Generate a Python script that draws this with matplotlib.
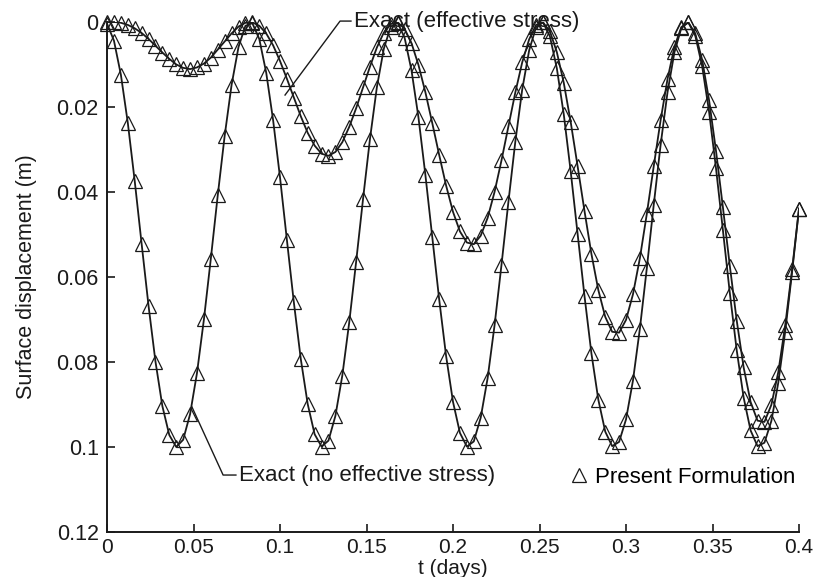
import matplotlib
matplotlib.use("Agg")
import matplotlib.pyplot as plt

plt.rcParams["font.family"] = ["Liberation Sans", "DejaVu Sans"]

# sample times (days), one per marker
t_days = [
    0.000, 0.004, 0.008, 0.012, 0.016, 0.020, 0.024, 0.028, 0.032, 0.036,
    0.040, 0.044, 0.048, 0.052, 0.056, 0.060, 0.064, 0.068, 0.072, 0.076,
    0.080, 0.084, 0.088, 0.092, 0.096, 0.100, 0.104, 0.108, 0.112, 0.116,
    0.120, 0.124, 0.128, 0.132, 0.136, 0.140, 0.144, 0.148, 0.152, 0.156,
    0.160, 0.164, 0.168, 0.172, 0.176, 0.180, 0.184, 0.188, 0.192, 0.196,
    0.200, 0.204, 0.208, 0.212, 0.216, 0.220, 0.224, 0.228, 0.232, 0.236,
    0.240, 0.244, 0.248, 0.252, 0.256, 0.260, 0.264, 0.268, 0.272, 0.276,
    0.280, 0.284, 0.288, 0.292, 0.296, 0.300, 0.304, 0.308, 0.312, 0.316,
    0.320, 0.324, 0.328, 0.332, 0.336, 0.340, 0.344, 0.348, 0.352, 0.356,
    0.360, 0.364, 0.368, 0.372, 0.376, 0.380, 0.384, 0.388, 0.392, 0.396,
    0.400,
]

# surface displacement (m), no effective stress
disp_no_eff = [
    0.0004, 0.0044, 0.0124, 0.0237, 0.0374, 0.0522, 0.0668, 0.0799, 0.0904, 0.0972,
    0.1000, 0.0983, 0.0923, 0.0826, 0.0700, 0.0557, 0.0408, 0.0268, 0.0148, 0.0059,
    0.0009, 0.0003, 0.0040, 0.0119, 0.0231, 0.0366, 0.0514, 0.0660, 0.0793, 0.0899,
    0.0970, 0.0999, 0.0985, 0.0927, 0.0832, 0.0707, 0.0564, 0.0416, 0.0275, 0.0153,
    0.0063, 0.0011, 0.0002, 0.0037, 0.0114, 0.0224, 0.0359, 0.0506, 0.0653, 0.0786,
    0.0894, 0.0967, 0.0999, 0.0987, 0.0931, 0.0838, 0.0714, 0.0572, 0.0424, 0.0282,
    0.0159, 0.0067, 0.0012, 0.0001, 0.0034, 0.0109, 0.0217, 0.0351, 0.0498, 0.0645,
    0.0780, 0.0889, 0.0964, 0.0998, 0.0988, 0.0935, 0.0844, 0.0722, 0.0580, 0.0431,
    0.0289, 0.0165, 0.0071, 0.0014, 0.0001, 0.0032, 0.0104, 0.0211, 0.0344, 0.0490,
    0.0638, 0.0773, 0.0884, 0.0961, 0.0998, 0.0990, 0.0939, 0.0849, 0.0729, 0.0588,
    0.0439,
]

# surface displacement (m), with effective stress
disp_eff = [
    0.0000, 0.0000, 0.0002, 0.0007, 0.0015, 0.0026, 0.0040, 0.0056, 0.0072, 0.0087,
    0.0100, 0.0108, 0.0111, 0.0107, 0.0098, 0.0084, 0.0065, 0.0046, 0.0027, 0.0011,
    0.0002, 0.0001, 0.0009, 0.0027, 0.0055, 0.0092, 0.0134, 0.0178, 0.0222, 0.0261,
    0.0291, 0.0310, 0.0315, 0.0306, 0.0283, 0.0247, 0.0203, 0.0154, 0.0105, 0.0060,
    0.0025, 0.0005, 0.0001, 0.0016, 0.0050, 0.0101, 0.0165, 0.0238, 0.0313, 0.0385,
    0.0447, 0.0493, 0.0519, 0.0523, 0.0503, 0.0461, 0.0400, 0.0326, 0.0246, 0.0166,
    0.0095, 0.0041, 0.0007, 0.0001, 0.0022, 0.0071, 0.0143, 0.0235, 0.0339, 0.0445,
    0.0546, 0.0631, 0.0694, 0.0729, 0.0731, 0.0701, 0.0641, 0.0556, 0.0452, 0.0340,
    0.0231, 0.0134, 0.0058, 0.0012, 0.0001, 0.0027, 0.0089, 0.0184, 0.0303, 0.0436,
    0.0574, 0.0703, 0.0813, 0.0894, 0.0938, 0.0941, 0.0901, 0.0824, 0.0714, 0.0582,
    0.0439,
]

x_ticks = [0, 0.05, 0.1, 0.15, 0.2, 0.25, 0.3, 0.35, 0.4]
x_tick_labels = ["0", "0.05", "0.1", "0.15", "0.2", "0.25", "0.3", "0.35", "0.4"]
y_ticks = [0, 0.02, 0.04, 0.06, 0.08, 0.1, 0.12]
y_tick_labels = ["0", "0.02", "0.04", "0.06", "0.08", "0.1", "0.12"]

fig = plt.figure(figsize=(8.17, 5.77), dpi=100)
ax = fig.add_axes([0.131, 0.078, 0.847, 0.884])

line_kw = dict(color="#1a1a1a", lw=1.3)
ax.plot(t_days, disp_no_eff, **line_kw)
ax.plot(t_days, disp_eff, **line_kw)

mark_kw = dict(ls="none", marker="^", markersize=10.5, mfc="none",
               mec="#1a1a1a", mew=0.9, clip_on=False)
ax.plot(t_days, disp_no_eff, label="Present Formulation", **mark_kw)
ax.plot(t_days, disp_eff, **mark_kw)

ax.set_xlim(0, 0.4)
ax.set_ylim(0.12, 0)
ax.set_xticks(x_ticks)
ax.set_xticklabels(x_tick_labels)
ax.set_yticks(y_ticks)
ax.set_yticklabels(y_tick_labels)
ax.tick_params(direction="in", length=6, width=1.2, labelsize=15.5,
               colors="#1a1a1a", pad=6)
ax.tick_params(axis="x", labelsize=15, pad=4)
for side in ["top", "right"]:
    ax.spines[side].set_visible(False)
for side in ["left", "bottom"]:
    ax.spines[side].set_linewidth(1.4)
    ax.spines[side].set_color("#1a1a1a")

ax.set_xlabel("t (days)", fontsize=15, color="#1a1a1a")
ax.xaxis.set_label_coords(0.5, -0.053)
ax.set_ylabel("Surface displacement (m)", fontsize=15.5, color="#1a1a1a",
              labelpad=14)

# leader-line labels
ax.plot([0.1029, 0.1347, 0.141], [0.0172, -0.0002, -0.0002],
        color="#1a1a1a", lw=1.0, clip_on=False)
ax.text(0.1425, -0.0002, "Exact (effective stress)", fontsize=16,
        va="center", ha="left", color="#1a1a1a")
ax.plot([0.0491, 0.0671, 0.0745], [0.0906, 0.1066, 0.1066],
        color="#1a1a1a", lw=1.0)
ax.text(0.0765, 0.1066, "Exact (no effective stress)", fontsize=16,
        va="center", ha="left", color="#1a1a1a")

ax.legend(loc="lower right", bbox_to_anchor=(1.024, 0.047), frameon=False,
          fontsize=16, handlelength=0.7, handletextpad=0.4, numpoints=1)

fig.savefig("out.png", dpi=100)
